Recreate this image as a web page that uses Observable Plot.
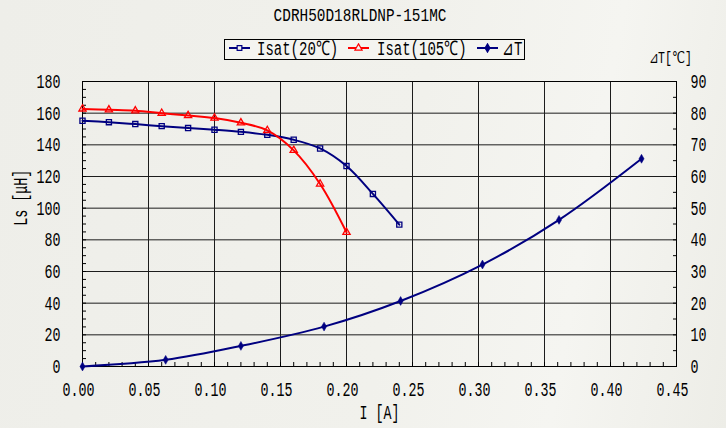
<!DOCTYPE html>
<html><head><meta charset="utf-8">
<script src="https://cdn.jsdelivr.net/npm/d3@7"></script>
<script src="https://cdn.jsdelivr.net/npm/@observablehq/plot@0.6"></script>
<style>
body{margin:0;}
#wrap{position:relative;width:726px;height:428px;overflow:hidden;
  background:linear-gradient(100deg,#eeeee9 0%,#f1f1ec 55%,#f5f5f1 78%,#edede7 100%);
  font-family:"Liberation Mono",monospace;color:#000;}
#chart{position:absolute;left:0;top:0;}
.cond{display:inline-block;white-space:nowrap;}
#legend{position:absolute;left:224px;top:39px;width:301px;height:21px;box-sizing:border-box;border:1px solid #000;background:#f4f4f0;}
#legend .t{position:absolute;top:0px;font-size:20px;line-height:20px;white-space:nowrap;transform:scaleX(0.7);transform-origin:left top;}
#legend svg{position:absolute;top:3px;}
</style></head><body>
<div id="wrap">
  <div id="chart"></div>
  <div style="position:absolute;left:0;top:7px;width:720px;text-align:center;font-size:18px;line-height:18px;">
    <span class="cond" style="transform:scaleX(0.8);transform-origin:center top;">CDRH50D18RLDNP-151MC</span>
  </div>
  <div id="legend"></div>
  <div style="position:absolute;right:34px;top:51px;font-size:16px;line-height:16px;white-space:nowrap;transform:scaleX(0.72);transform-origin:right top;">⊿T[℃]</div>
</div>
<script>
// ---- data ----
const current20 = [0, 0.02, 0.04, 0.06, 0.08, 0.10, 0.12, 0.14, 0.16, 0.18, 0.20, 0.22, 0.24];
const ls20 = [155.2, 154.3, 153.1, 151.8, 150.6, 149.5, 148.2, 146.3, 143.2, 137.7, 126.6, 109.0, 89.6];
const current105 = [0, 0.02, 0.04, 0.06, 0.08, 0.10, 0.12, 0.14, 0.16, 0.18, 0.20];
const ls105 = [162.7, 162.1, 161.5, 160.0, 158.5, 156.9, 153.9, 149.1, 136.5, 115.3, 84.8];
const currentT = [0, 0.063, 0.120, 0.183, 0.241, 0.303, 0.361, 0.4235];
const deltaT = [0, 2.1, 6.5, 12.6, 20.7, 32.2, 46.3, 65.6];
const seriesNames = ["Isat(20℃)", "Isat(105℃)", "⊿T"];
const xTicks = d3.range(0, 10).map(k => k / 20);       // 0.00 .. 0.45
const yTicks = d3.range(0, 10).map(k => k * 20);       // 0 .. 180
const yTitle = "Ls [μH]", xTitle = "I [A]";

// right axis (0..90 ℃) shares the frame with left axis (0..180 μH)
const rightFactor = 2;
const navy = "#000080", red = "#ff0000";

const s20 = current20.map((x, i) => ({x, y: ls20[i]}));
const s105 = current105.map((x, i) => ({x, y: ls105[i]}));
const sT = currentT.map((x, i) => ({x, y: deltaT[i] * rightFactor}));
const grid = {stroke: "#1c1c1c", strokeOpacity: 1, strokeWidth: 1};

const chart = Plot.plot({
  width: 726, height: 428,
  marginTop: 81, marginBottom: 62, marginLeft: 82, marginRight: 50,
  style: {background: "transparent", fontFamily: "Liberation Mono, monospace", fontSize: "20px", color: "#000"},
  x: {domain: [0, 0.45]},
  y: {domain: [0, 180]},
  marks: [
    Plot.gridY(yTicks.slice(1, -1), grid),
    Plot.gridX(xTicks.slice(1, -1), grid),
    // inward minor ticks
    Plot.axisX(d3.range(0, 46).map(k => k / 100), {tickSize: 4, insetBottom: 4, text: null, label: null, stroke: "#000"}),
    Plot.axisY(d3.range(0, 37).map(k => k * 5), {anchor: "left", tickSize: 4, insetLeft: 4, text: null, label: null, stroke: "#000"}),
    Plot.axisY(d3.range(0, 19).map(k => k * 10), {anchor: "right", tickSize: 4, insetRight: 4, text: null, label: null, stroke: "#000"}),
    // tick labels
    Plot.axisX(xTicks, {tickSize: 0, tickPadding: 15, tickFormat: d3.format(".2f"), label: null, dx: -4}),
    Plot.axisY(yTicks, {anchor: "left", tickSize: 0, tickPadding: 22, label: null}),
    Plot.axisY(yTicks, {anchor: "right", tickSize: 0, tickPadding: 14, tickFormat: d => d / rightFactor, label: null}),
    Plot.text([xTitle], {frameAnchor: "bottom", dy: 46.5, lineAnchor: "middle", fontSize: 20}),
    Plot.text([yTitle], {frameAnchor: "left", dx: -62, dy: 1.7, rotate: -90, lineAnchor: "middle", fontSize: 20}),
    Plot.frame({stroke: "#000"}),
    // series
    Plot.line(s20, {x: "x", y: "y", stroke: navy, strokeWidth: 2, curve: "catmull-rom"}),
    Plot.line(s105, {x: "x", y: "y", stroke: red, strokeWidth: 2, curve: "catmull-rom"}),
    Plot.line(sT, {x: "x", y: "y", stroke: navy, strokeWidth: 2, curve: "catmull-rom"}),
    Plot.dot(s20, {x: "x", y: "y", symbol: "square", r: 2.9, stroke: navy, fill: "none", strokeWidth: 1.3}),
    Plot.dot(s105, {x: "x", y: "y", symbol: "triangle", r: 2.7, stroke: red, fill: "none", strokeWidth: 1.3}),
    Plot.dot(sT, {x: "x", y: "y", symbol: "diamond", r: 2.7, fill: navy, stroke: navy, strokeWidth: 0.5})
  ]
});

// condense the text horizontally (narrow Gothic look): scale about each text's own anchor
chart.querySelectorAll("text").forEach(t => {
  const tr = t.getAttribute("transform");
  if (tr) {
    t.setAttribute("transform", `${tr} scale(0.667,1)`);
  } else {
    const x = parseFloat(t.getAttribute("x"));
    const ax = isFinite(x) ? x : 0;
    if (isFinite(x)) t.removeAttribute("x");
    t.setAttribute("transform", `translate(${ax},0) scale(0.667,1)`);
  }
});
document.getElementById("chart").append(chart);

// legend
const legendItems = [
  {name: seriesNames[0], color: navy, sym: "square", fill: "none", lineX: 4, textX: 32},
  {name: seriesNames[1], color: red, sym: "triangle", fill: "none", lineX: 123, textX: 152},
  {name: seriesNames[2], color: navy, sym: "diamond", fill: navy, lineX: 252, textX: 277}
];
const legend = document.getElementById("legend");
legendItems.forEach(it => {
  const svg = d3.create("svg").attr("width", 22).attr("height", 10).style("left", it.lineX + "px");
  svg.append("line").attr("x1", 0).attr("x2", 21).attr("y1", 5).attr("y2", 5).attr("stroke", it.color).attr("stroke-width", 2);
  const symType = {square: d3.symbolSquare, triangle: d3.symbolTriangle, diamond: d3.symbolDiamond}[it.sym];
  svg.append("path").attr("d", d3.symbol(symType, it.sym === "diamond" ? 20 : 22)())
    .attr("transform", "translate(10.5,5)").attr("fill", it.fill === "none" ? "#f4f4f0" : it.fill)
    .attr("stroke", it.color).attr("stroke-width", 1.2);
  legend.append(svg.node());
  const t = document.createElement("div");
  t.className = "t"; t.textContent = it.name; t.style.left = it.textX + "px";
  legend.append(t);
});
</script>
</body></html>
